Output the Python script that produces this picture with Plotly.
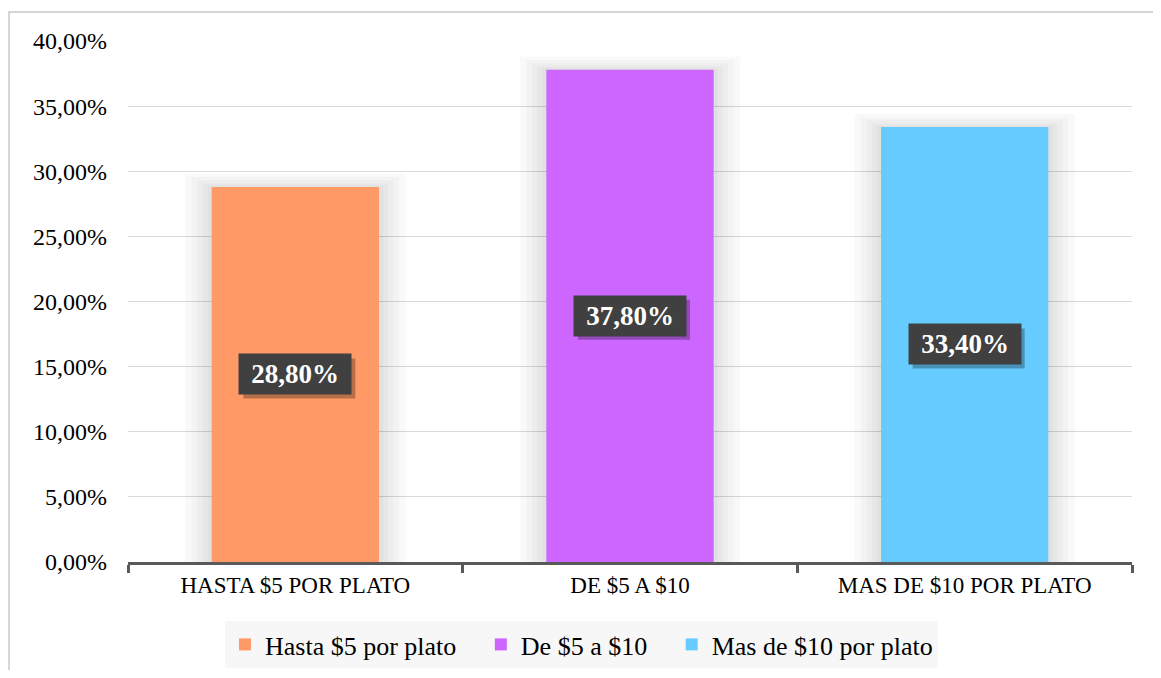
import plotly.graph_objects as go

categories = ["HASTA $5 POR PLATO", "DE $5 A $10", "MAS DE $10 POR PLATO"]
series_names = ["Hasta $5 por plato", "De $5 a $10", "Mas de $10 por plato"]
values = [0.288, 0.378, 0.334]
colors = ["#FF9966", "#CC66FF", "#66CCFF"]
y_ticks = [0, 0.05, 0.10, 0.15, 0.20, 0.25, 0.30, 0.35, 0.40]

SERIF = "Liberation Serif, DejaVu Serif, serif"
W, H = 1145, 662

fig = go.Figure()

# soft glow behind bars
glow = [(0.66, 0.010), (0.62, 0.0075), (0.585, 0.005), (0.555, 0.0025), (0.525, 0.001)]
for w, extra in glow:
    fig.add_trace(go.Bar(
        x=categories, y=[v + extra for v in values], width=[w] * 3,
        marker=dict(color="rgba(0,0,0,0.022)", line=dict(width=0)),
        showlegend=False, hoverinfo="skip",
    ))

NB = "\u00a0" * 3
for k, (cat, name, v, c) in enumerate(zip(categories, series_names, values, colors)):
    fig.add_trace(go.Bar(
        x=[cat], y=[v], name=name + (NB if k < 2 else ""), width=[0.5],
        marker=dict(color=c, line=dict(width=0)),
        hoverinfo="skip",
    ))

for i, (cat, v) in enumerate(zip(categories, values)):
    label = "<b>" + f"{v*100:.2f}".replace(".", ",") + "%</b>"
    fig.add_shape(
        type="rect", xref="x", yref="y", xsizemode="pixel", ysizemode="pixel",
        xanchor=i, yanchor=v / 2, x0=-52, x1=60, y0=-24, y1=16,
        fillcolor="rgba(0,0,0,0.28)", line=dict(width=0), layer="above",
    )
    fig.add_annotation(
        x=cat, y=v / 2, xref="x", yref="y", text=label, showarrow=False,
        font=dict(family=SERIF, size=27, color="white"),
        bgcolor="#404040", width=112, height=40, borderpad=0,
    )

fig.add_shape(
    type="rect", xref="paper", yref="paper",
    x0=-0.1185, x1=1.0279, y0=-0.2265, y1=1.0557,
    line=dict(color="#c8c8c8", width=1.5), fillcolor="rgba(0,0,0,0)",
    layer="below",
)

fig.update_layout(
    width=W, height=H,
    margin=dict(l=120, r=21, t=33, b=108),
    paper_bgcolor="white", plot_bgcolor="white",
    barmode="overlay",
    separators=",.",
    showlegend=True,
    legend=dict(
        orientation="h", xref="paper", x=(225 - 128) / 1004, xanchor="left",
        yref="container", y=(H - (621 - 8)) / H, yanchor="top",
        bgcolor="#f7f7f7", font=dict(family=SERIF, size=26, color="#000000"),
        itemwidth=30, traceorder="normal",
    ),
    xaxis=dict(
        type="category", categoryorder="array", categoryarray=categories,
        showline=True, linecolor="#595959", linewidth=3,
        ticks="outside", tickson="boundaries", ticklen=8, tickwidth=3, tickcolor="#595959",
        tickfont=dict(family=SERIF, size=23, color="#000000"),
        showgrid=False, fixedrange=True,
    ),
    yaxis=dict(
        range=[0, 0.40], tickvals=y_ticks, tickformat=".2%",
        showgrid=True, gridcolor="#d9d9d9", gridwidth=1,
        zeroline=False, showline=False, ticks="",
        tickfont=dict(family=SERIF, size=24, color="#000000"),
        ticklabelstandoff=20, fixedrange=True,
    ),
)

fig.write_html("out.html")
